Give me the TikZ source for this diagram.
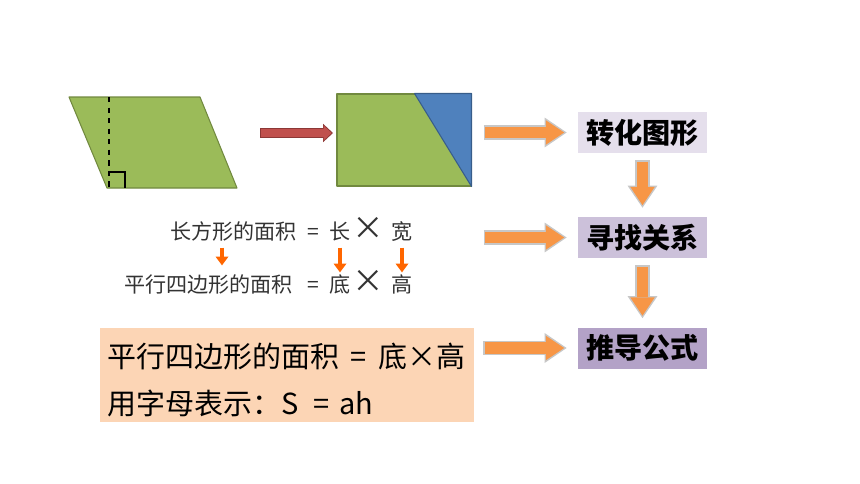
\documentclass[tikz,border=0pt]{standalone}
\usepackage{fontspec}
\usepackage{tikz}
\usetikzlibrary{positioning,calc,arrows.meta}
\newfontfamily\cjk{Noto Sans CJK SC}
\definecolor{shapeGreen}{HTML}{9BBB59}
\definecolor{shapeGreenLine}{HTML}{71893F}
\definecolor{shapeBlue}{HTML}{4F81BD}
\definecolor{shapeBlueLine}{HTML}{385D8A}
\definecolor{moveRed}{HTML}{C0504D}
\definecolor{moveRedLine}{HTML}{8C3836}
\definecolor{stepOrange}{HTML}{F79646}
\definecolor{hintOrange}{HTML}{FF6600}
\definecolor{formulaFill}{HTML}{FCD5B5}
\definecolor{stepOne}{HTML}{E5DFEC}
\definecolor{stepTwo}{HTML}{CCC1DA}
\definecolor{stepThree}{HTML}{B3A2C7}
\tikzstyle{screen} = [x = .02cm, y = -.02cm]
\tikzstyle{shapeStyle} = [fill=shapeGreen, draw=shapeGreenLine, line width=.6pt, line join=round]
\tikzstyle{stepBox} = [font=\cjk\bfseries\fontsize{16}{18}\selectfont, minimum width=2.58cm, minimum height=.82cm, inner sep=0pt]
\tikzstyle{rowText} = [font=\cjk\fontsize{12}{14}\selectfont, text=black!80, inner sep=1pt, text height=10pt, text depth=2pt]
\tikzstyle{timesText} = [rowText, font=\cjk\fontsize{18}{18}\selectfont]
\tikzstyle{formulaText} = [font=\cjk\fontsize{16.5}{19}\selectfont, inner sep=0pt, anchor=west]
\tikzstyle{stepArrowBack} = [draw=black!22, line width=8.4pt, -{Triangle[width=17pt, length=12.5pt, line width=0pt]}]
\tikzstyle{stepArrowFront} = [draw=stepOrange, line width=6.6pt, -{Triangle[width=14pt, length=10.5pt, line width=0pt]}]
\tikzstyle{moveArrowBack} = [draw=moveRedLine, line width=5.7pt, -{Triangle[width=10.4pt, length=5.6pt, line width=0pt]}]
\tikzstyle{moveArrowFront} = [draw=moveRed, line width=4.5pt, -{Triangle[width=8.6pt, length=4.6pt, line width=0pt]}]
\tikzstyle{hintArrow} = [draw=hintOrange, line width=2.3pt, -{Triangle[width=7.4pt, length=5pt, line width=0pt]}]
\newcommand{\stepArrow}[4]{\draw [stepArrowBack, shorten <=#1, shorten >=#2] #3 -- #4; \draw [stepArrowFront, shorten <=#1+.9pt, shorten >=#2+1.4pt] #3 -- #4;}
\newcommand{\moveArrow}[2]{\draw [moveArrowBack] #1 -- #2; \draw [moveArrowFront, shorten <=.6pt, shorten >=.8pt] #1 -- #2;}

\begin{document}
\begin{tikzpicture}[screen]
\useasboundingbox (0,0) rectangle (860,484);
\filldraw [shapeStyle] (69,97) -- (200,97) -- (237,188) -- (107,188) -- cycle;
\draw [black, dashed, line width=.8pt] (109,97) -- (109,188);
\draw [black, line width=.8pt] (109,172) -- (125,172) -- (125,188);
\coordinate (moveStart) at (260,133);
\coordinate (moveEnd) at (333,133);
\moveArrow{(moveStart)}{(moveEnd)}
\node [shapeStyle, minimum width=2.68cm, minimum height=1.84cm, inner sep=0pt] (rect) at (404,140) {};
\filldraw [fill=shapeBlue, draw=shapeBlueLine, line width=.6pt, line join=round] ($(rect.north east)+(-57,0)$) -- (rect.north east) -- (rect.south east) -- cycle;
\node [stepBox, fill=stepOne] (transform) at (642.5,132.5) {转化图形};
\node [stepBox, fill=stepTwo] (relation) at (642.5,237.5) {寻找关系};
\node [stepBox, fill=stepThree] (derive) at (642.5,348) {推导公式};
\node [rowText, anchor=west] (rectArea) at (168,232) {长方形的面积};
\node [rowText] (eqTop) at (313,232) {=};
\node [rowText] (len) at (340,232) {长};
\node [timesText] (timesTop) at (368,232) {×};
\node [rowText] (wid) at (402,232) {宽};
\node [rowText, anchor=west] (paraArea) at (122,285) {平行四边形的面积};
\node [rowText] (eqBottom) at (313,285) {=};
\node [rowText] (base) at (340,285) {底};
\node [timesText] (timesBottom) at (368,285) {×};
\node [rowText] (height) at (402,285) {高};
\coordinate (areaHint) at (222,0);
\draw [hintArrow, shorten <=.06cm, shorten >=.14cm] (rectArea.south -| areaHint) -- (paraArea.north -| areaHint);
\draw [hintArrow, shorten <=.06cm] (len) -- (base);
\draw [hintArrow, shorten <=.06cm] (wid) -- (height);
\node [fill=formulaFill, minimum width=7.48cm, minimum height=1.88cm, inner sep=0pt] (formulaBox) at (287,375) {};
\node [formulaText] (areaRule) at (107,357) {平行四边形的面积\hspace{.4em}=\hspace{.4em}底×高};
\node [formulaText] (letterRule) at (107,403) {用字母表示：S\hspace{.5em}=\hspace{.35em}ah};
\stepArrow{.24cm}{.22cm}{(rect.east |- transform)}{(transform)}
\stepArrow{1.38cm}{.22cm}{(wid.east |- relation)}{(relation)}
\stepArrow{.18cm}{.22cm}{(formulaBox.east |- derive)}{(derive)}
\stepArrow{.14cm}{.18cm}{(transform)}{(relation)}
\stepArrow{.14cm}{.18cm}{(relation)}{(derive)}
\end{tikzpicture}
\end{document}
